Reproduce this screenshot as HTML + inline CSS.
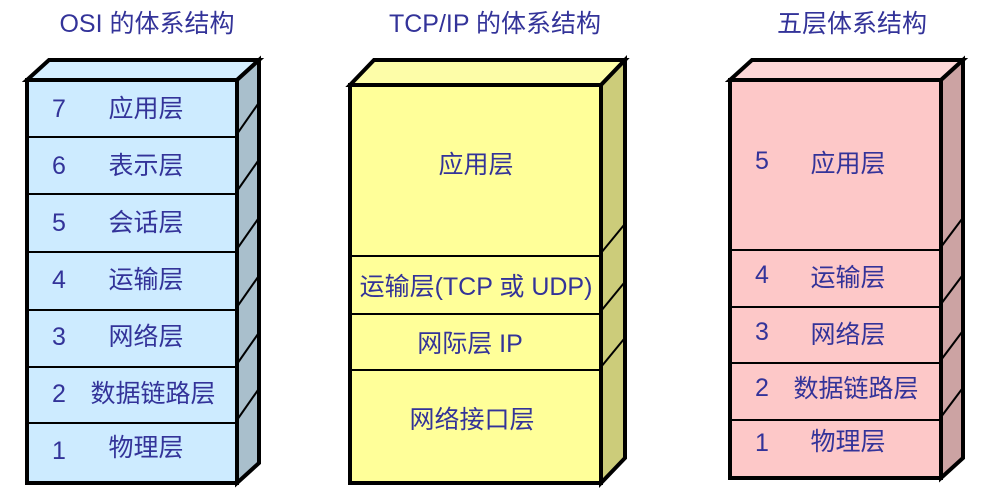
<!DOCTYPE html>
<html><head><meta charset="utf-8"><style>
html,body{margin:0;padding:0;background:#fff;}
svg{display:block;}
text{font-family:"Liberation Sans","Noto Sans CJK SC",sans-serif;fill:#333399;font-size:25px;}
</style></head><body>
<svg width="996" height="492" viewBox="0 0 996 492" xmlns="http://www.w3.org/2000/svg">
<!-- titles -->
<text x="147" y="32" text-anchor="middle" font-size="27">OSI 的体系结构</text>
<text x="495" y="32" text-anchor="middle" font-size="27">TCP/IP 的体系结构</text>
<text x="852" y="32" text-anchor="middle" font-size="27">五层体系结构</text>

<!-- OSI box -->
<g stroke="#000" stroke-linejoin="miter">
<polygon points="27,80 49,60 259,60 237,80" fill="#d6efff" stroke-width="4"/>
<polygon points="237,80 259,60 259,463 237,483" fill="#a9bfcc" stroke-width="4"/>
<rect x="27" y="80" width="210" height="403" fill="#cdebff" stroke-width="4"/>
<g stroke-width="2">
<line x1="27" y1="137" x2="237" y2="137"/><line x1="27" y1="194" x2="237" y2="194"/>
<line x1="27" y1="252" x2="237" y2="252"/><line x1="27" y1="310" x2="237" y2="310"/>
<line x1="27" y1="367" x2="237" y2="367"/><line x1="27" y1="423" x2="237" y2="423"/>
<line x1="237" y1="134" x2="258" y2="104"/><line x1="237" y1="191" x2="258" y2="161"/>
<line x1="237" y1="249" x2="258" y2="219"/><line x1="237" y1="307" x2="258" y2="277"/>
<line x1="237" y1="364" x2="258" y2="334"/><line x1="237" y1="420" x2="258" y2="390"/>
</g>
</g>
<text x="52" y="117">7</text><text x="146" y="117" text-anchor="middle">应用层</text>
<text x="52" y="174">6</text><text x="146" y="174" text-anchor="middle">表示层</text>
<text x="52" y="231">5</text><text x="146" y="231" text-anchor="middle">会话层</text>
<text x="52" y="288">4</text><text x="146" y="288" text-anchor="middle">运输层</text>
<text x="52" y="345">3</text><text x="146" y="345" text-anchor="middle">网络层</text>
<text x="52" y="402">2</text><text x="153" y="402" text-anchor="middle">数据链路层</text>
<text x="52" y="459">1</text><text x="146" y="456" text-anchor="middle">物理层</text>

<!-- TCP/IP box -->
<g stroke="#000">
<polygon points="350,85 374,60 625,60 601,85" fill="#fdfda8" stroke-width="4"/>
<polygon points="601,85 625,60 625,458 601,483" fill="#cccc7a" stroke-width="4"/>
<rect x="350" y="85" width="251" height="398" fill="#ffff99" stroke-width="4"/>
<g stroke-width="2">
<line x1="350" y1="256" x2="601" y2="256"/><line x1="350" y1="314" x2="601" y2="314"/>
<line x1="350" y1="370" x2="601" y2="370"/>
<line x1="601" y1="253" x2="624" y2="225"/><line x1="601" y1="311" x2="624" y2="283"/>
<line x1="601" y1="367" x2="624" y2="339"/>
</g>
</g>
<text x="476" y="173" text-anchor="middle">应用层</text>
<text x="476" y="295" text-anchor="middle">运输层(TCP 或 UDP)</text>
<text x="470" y="352" text-anchor="middle">网际层 IP</text>
<text x="472" y="428" text-anchor="middle">网络接口层</text>

<!-- Five-layer box -->
<g stroke="#000">
<polygon points="730,80 752,60 963,60 941,80" fill="#fdd7d7" stroke-width="4"/>
<polygon points="941,80 963,60 963,458 941,478" fill="#cca3a3" stroke-width="4"/>
<rect x="730" y="80" width="211" height="398" fill="#fdc8c8" stroke-width="4"/>
<g stroke-width="2">
<line x1="730" y1="250" x2="941" y2="250"/><line x1="730" y1="307" x2="941" y2="307"/>
<line x1="730" y1="363" x2="941" y2="363"/><line x1="730" y1="420" x2="941" y2="420"/>
<line x1="941" y1="247" x2="962" y2="219"/><line x1="941" y1="304" x2="962" y2="276"/>
<line x1="941" y1="360" x2="962" y2="332"/><line x1="941" y1="417" x2="962" y2="389"/>
</g>
</g>
<text x="755" y="169">5</text><text x="848" y="172" text-anchor="middle">应用层</text>
<text x="755" y="283">4</text><text x="848" y="286" text-anchor="middle">运输层</text>
<text x="755" y="340">3</text><text x="848" y="343" text-anchor="middle">网络层</text>
<text x="755" y="396">2</text><text x="856" y="397" text-anchor="middle">数据链路层</text>
<text x="755" y="451">1</text><text x="848" y="450" text-anchor="middle">物理层</text>
</svg>
</body></html>
